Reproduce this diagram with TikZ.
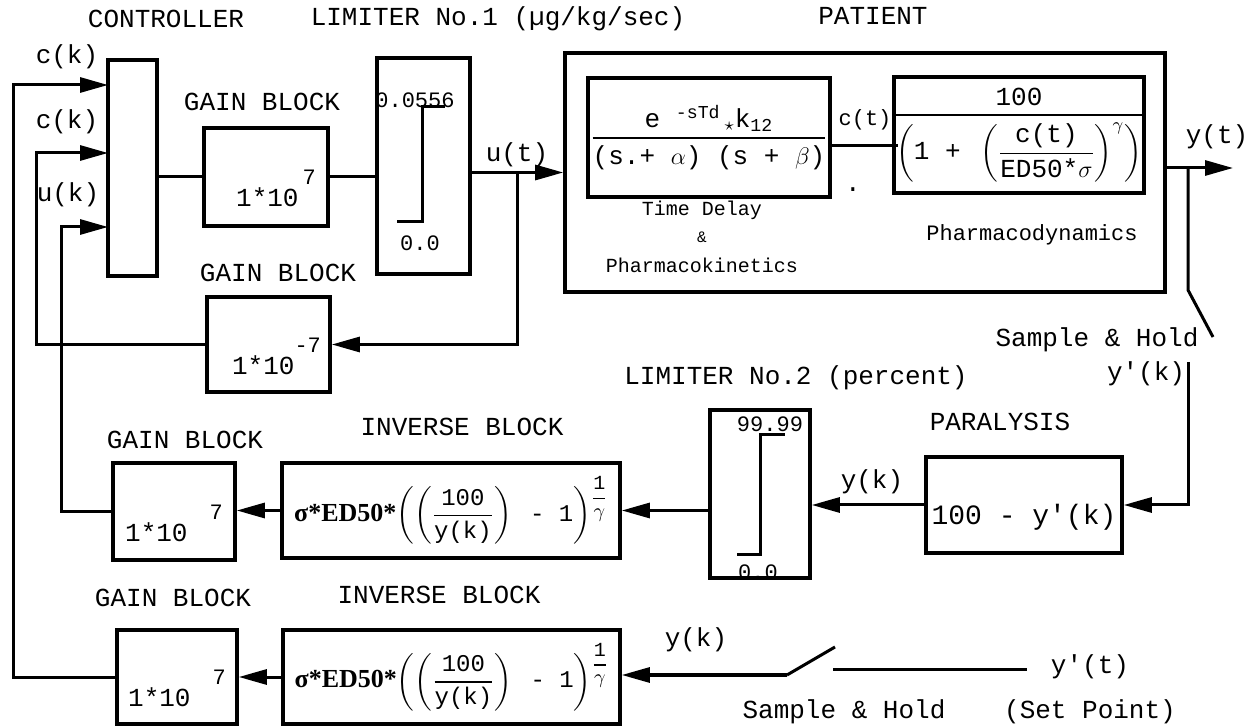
\documentclass[tikz,border=0pt]{standalone}
\usepackage{amsmath}
\usepackage{fontspec}
\setmainfont{Liberation Mono}
\newfontfamily\timesfont{Liberation Serif}
\usepackage{tikz}
\usetikzlibrary{arrows.meta, positioning, calc}
\tikzstyle{block} = [rectangle, draw=black, line width=1.8pt, inner sep=0pt]
\tikzstyle{conn} = [line width=1.5pt]
\tikzstyle{arrow} = [line width=1.5pt, -{Triangle[length=14pt,width=7.5pt]}]
\tikzstyle{smalltxt} = [font=\fontsize{10}{12}\selectfont]
\tikzstyle{midtxt} = [font=\fontsize{11}{13}\selectfont]
\tikzstyle{invtxt} = [font=\fontsize{12}{14}\selectfont]
\newcommand{\tenexp}[2]{\rule{0pt}{30pt}1*10\hspace*{#2}\raisebox{11pt}{\fontsize{11}{13}\selectfont #1}}
\newcommand{\apos}{\textquotesingle}
\newcommand{\invform}{{\timesfont\bfseries\fontsize{13}{15}\selectfont σ*ED50*}$\left(\left(\genfrac{}{}{0.8pt}{0}{\text{100}}{\text{y(k)}}\right)\text{ - 1}\right)$\raisebox{9pt}{\fontsize{10}{12}\selectfont$\genfrac{}{}{0.6pt}{0}{\text{1}}{\gamma}$}}
\begin{document}
\begin{tikzpicture}[x=0.5pt, y=-0.5pt, every node/.style={font=\fontsize{13}{15}\selectfont}]
\useasboundingbox (0,0) rectangle (1255,727);

% titles
\node (tctrl) at (166,19) {CONTROLLER};
\node (tlim1) at (498,19) {LIMITER No.1 (µg/kg/sec)};
\node (tpat) at (873,16) {PATIENT};

% forward path
\node (ctrl) [block, minimum width=24.5pt, minimum height=108pt] at (132.5,168) {};
\node (gain1) [block, minimum width=62pt, minimum height=49pt] at (266,177) {\hspace*{10pt}\tenexp{7}{2pt}};
\node (lim1) [block, minimum width=46.5pt, minimum height=108pt] at (423.5,166) {};
\node (pat) [block, minimum width=300pt, minimum height=119.5pt] at (865,172.5) {};
\node (td) [block, minimum width=121pt, minimum height=59.5pt] at (709,137.5) {$\genfrac{}{}{1pt}{0}{\text{e }^{\text{-sTd}}\,{}_{\star}\text{k}_{\text{12}}}{\text{(s.+ }\alpha\text{) (s + }\beta\text{)}}$};
\node (pd) [block, minimum width=121pt, minimum height=58pt] at (1019,135) {$\genfrac{}{}{1pt}{0}{\text{100}}{\left(\text{1 + }\left(\genfrac{}{}{0.8pt}{0}{\text{c(t)}}{\text{ED50*}\sigma}\right)^{\gamma}\right)}$};

% feedback path
\node (gainm7) [block, minimum width=61.5pt, minimum height=47.5pt] at (268.5,344.5) {\hspace*{8pt}\tenexp{-7}{0pt}};
\node (gainmid) [block, minimum width=61pt, minimum height=48.5pt] at (174,511.5) {\tenexp{7}{11pt}};
\node (invmid) [block, invtxt, minimum width=169pt, minimum height=47.5pt] at (451,510.5) {\invform};
\node (gainbot) [block, minimum width=60pt, minimum height=47pt] at (177,677) {\tenexp{7}{11pt}};
\node (invbot) [block, invtxt, minimum width=168.5pt, minimum height=47pt] at (451.5,677) {\invform};
\node (lim2) [block, minimum width=50pt, minimum height=84pt] at (760,494) {};
\node (para) [block, minimum width=98pt, minimum height=48pt, font=\fontsize{14}{16}\selectfont] at (1024,505) {\rule{0pt}{22pt}100 - y\apos(k)};

% limiter characteristics
\draw [conn] (397,222) -- (422,222) -- (422,107) -- (445,107);
\draw [conn] (737,555) -- (760,555) -- (760,435) -- (785,435);
\node (l1hi) [midtxt] at (415,100) {0.0556};
\node (l1lo) [midtxt] at (420,243) {0.0};
\node (l2hi) [midtxt] at (770,424) {99.99};
\node (l2lo) [midtxt] at (758,572) {0.0};

% labels
\node (lck1) at (67,57) {c(k)};
\node (lck2) at (67,122) {c(k)};
\node (luk) at (68,195) {u(k)};
\node (tgain1) at (262,102) {GAIN BLOCK};
\node (tgain2) at (278,273) {GAIN BLOCK};
\node (lut) at (517,155) {u(t)};
\node (lct) [midtxt] at (865,120) {c(t)};
\node (ldot) at (853,190) {.};
\node (ltd1) [smalltxt] at (702,210) {Time Delay};
\node (ltd2) [font=\fontsize{8}{10}\selectfont] at (702,237) {\&};
\node (ltd3) [smalltxt] at (702,265) {Pharmacokinetics};
\node (lpd) [midtxt] at (1032,235) {Pharmacodynamics};
\node (lyt) at (1217,137) {y(t)};
\node (lsh1) at (1097,340) {Sample \& Hold};
\node (lyk1) at (1146,374) {y\apos(k)};
\node (tlim2) at (796,378) {LIMITER No.2 (percent)};
\node (tpara) at (1000,422) {PARALYSIS};
\node (lyk2) at (872,482) {y(k)};
\node (tinv1) at (462,427) {INVERSE BLOCK};
\node (tgain3) at (185,440) {GAIN BLOCK};
\node (tinv2) at (439,595) {INVERSE BLOCK};
\node (tgain4) at (173,598) {GAIN BLOCK};
\node (lyk3) at (696,640) {y(k)};
\node (lypt) at (1090,667) {y\apos(t)};
\node (lsh2) at (844,712) {Sample \& Hold};
\node (lsp) at (1090,712) {(Set Point)};

% connectors
\coordinate (in1) at (108,85);
\coordinate (in2) at (108,153);
\coordinate (in3) at (108,227);
\coordinate (ubr) at (517.5,172.5);
\coordinate (ct) at (898,146);
\coordinate (yout) at (1233,168);
\coordinate (sh1) at (1188,168);
\coordinate (sh2) at (1188,290);
\coordinate (sh3) at (1213,337);
\coordinate (sh4) at (1188,362);
\coordinate (sw1) at (787,675);
\coordinate (sw2) at (835,647);
\coordinate (sp1) at (833,670);
\coordinate (sp2) at (1027,670);

\draw [conn] (ctrl.east |- gain1.west) -- (gain1.west);
\draw [conn] (gain1.east) -- (lim1.west |- gain1.east);
\draw [arrow] (lim1.east |- pat.west) -- (pat.west);
\draw [arrow] (ubr) |- (gainm7.east);
\draw [conn] (td.east |- ct) -- (ct);
\draw [arrow] (pat.east |- yout) -- (yout);
\draw [conn] (sh1) -- (sh2) -- (sh3);
\draw [arrow] (sh4) |- (para.east);
\draw [arrow] (para.west) -- (lim2.east |- para.west);
\draw [arrow] (lim2.west |- invmid.east) -- (invmid.east);
\draw [arrow] (invmid.west) -- (gainmid.east |- invmid.west);
\draw [arrow] (gainmid.west) -- ++(-50,0) |- (in3);
\draw [arrow] (gainm7.west) -- ++(-169,0) |- (in2);
\draw [arrow] (gainbot.west) -- ++(-102,0) |- (in1);
\draw [arrow] (invbot.west) -- (gainbot.east |- invbot.west);
\draw [conn] (sw2) -- (sw1);
\draw [arrow] (sw1) -- (invbot.east |- sw1);
\draw [conn] (sp1) -- (sp2);
\end{tikzpicture}
\end{document}
